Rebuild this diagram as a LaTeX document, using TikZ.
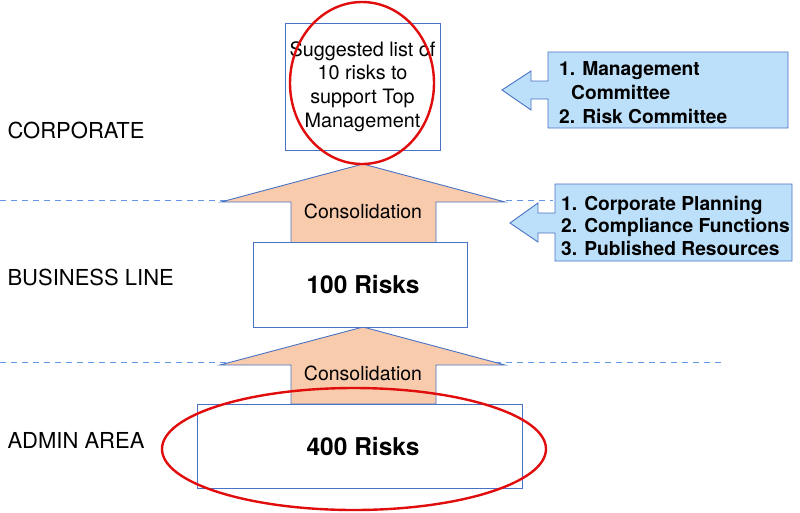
\documentclass[tikz,border=0pt]{standalone}
\usepackage{fontspec}
\setmainfont{TeX Gyre Heros}
\usetikzlibrary{positioning}

\definecolor{boxblue}{RGB}{74,114,196}
\definecolor{dashblue}{RGB}{100,150,230}
\definecolor{peach}{RGB}{248,203,173}
\definecolor{callblue}{RGB}{189,224,250}
\definecolor{ringred}{RGB}{225,12,12}

\begin{document}
\begin{tikzpicture}[x=1pt,y=-1pt,
  riskbox/.style={draw=boxblue,fill=white,line width=0.9pt,inner sep=0pt,align=center},
  consol/.style={draw=boxblue,fill=peach,line width=0.9pt,line join=miter},
  callout/.style={draw=boxblue,fill=callblue,line width=0.9pt},
  divider/.style={dashblue,line width=0.9pt,dash pattern=on 6pt off 5pt},
  ring/.style={ringred,line width=2.4pt},
  level/.style={anchor=west,font=\fontsize{22}{24}\selectfont},
  srcs/.style={anchor=west,align=left,inner sep=0pt,font=\fontsize{19.2}{24}\selectfont\bfseries}]
  \useasboundingbox (0,0) rectangle (800,512);

  % Level dividers
  \draw[divider] (0,362) -- (722,362);

  % Input callouts
  \draw[callout] (502,90) -- (531,71) -- (531,81) -- (548,81) -- (548,52) -- (788,52)
    -- (788,128) -- (548,128) -- (548,99) -- (531,99) -- (531,110) -- cycle;
  \draw[callout] (510,223) -- (538,203) -- (538,213) -- (555,213) -- (555,184) -- (792,184)
    -- (792,261) -- (555,261) -- (555,233) -- (538,233) -- (538,242) -- cycle;
  \draw[divider] (0,200) -- (553,200);
  \node[srcs] (committees) at (559,92.5) {1. Management\\\hspace*{12pt}Committee\\2. Risk Committee};
  \node[srcs,font=\fontsize{19.2}{22.5}\selectfont\bfseries] (sources) at (561,225.5)
    {1. Corporate Planning\\2. Compliance Functions\\3. Published Resources};

  % Consolidation arrows
  \draw[consol] (363,164) -- (505,202) -- (436,202) -- (436,243) -- (291,243) -- (291,202) -- (221,202) -- cycle;
  \draw[consol] (363,327) -- (505,365) -- (436,365) -- (436,404) -- (291,404) -- (291,365) -- (220,365) -- cycle;
  \node[font=\fontsize{19.5}{22}\selectfont] (upper) at (363,211) {Consolidation};
  \node[font=\fontsize{19.5}{22}\selectfont] (lower) at (363,373) {Consolidation};

  % Risk boxes
  \node[riskbox,minimum width=155pt,minimum height=127pt,font=\fontsize{19.8}{23.7}\selectfont]
    (toplist) at (362.5,86.5) {Suggested list of\\10 risks to\\support Top\\Management};
  \node[riskbox,minimum width=214pt,minimum height=85pt,font=\fontsize{24.5}{26}\selectfont\bfseries]
    (hundred) at (360,284.5) {\hspace*{6pt}100 Risks};
  \node[riskbox,minimum width=325pt,minimum height=84pt,font=\fontsize{24.5}{26}\selectfont\bfseries]
    (fourhundred) at (359.5,446) {\hspace*{7pt}400 Risks};

  % Levels
  \node[level] (corp) at (4,130) {CORPORATE};
  \node[level] (biz) at (4,277) {BUSINESS LINE};
  \node[level] (admin) at (4,440) {ADMIN AREA};

  % Highlights
  \draw[ring] (362,83) ellipse [x radius=72, y radius=81];
  \draw[ring] (354,449) ellipse [x radius=192, y radius=61];
\end{tikzpicture}
\end{document}
